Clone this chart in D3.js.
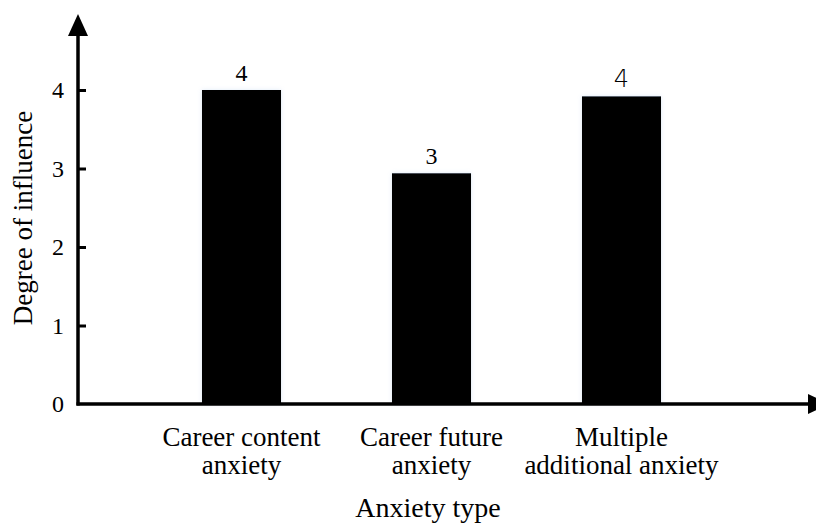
<!DOCTYPE html>
<html>
<head>
<meta charset="utf-8">
<script src="https://cdn.jsdelivr.net/npm/d3@7"></script>
<style>
  body { margin: 0; background: #fff; }
</style>
</head>
<body>
<div id="chart"></div>
<script>
// data
const categories = [["Career content", "anxiety"], ["Career future", "anxiety"], ["Multiple", "additional anxiety"]];
const values = [4.0, 2.94, 3.92];
const valueLabels = ["4", "3", "4"];
const yTicks = [0, 1, 2, 3, 4];

const width = 816, height = 524;
const serif = "'Liberation Serif', 'Times New Roman', Tinos, 'DejaVu Serif', serif";

const svg = d3.select("#chart").append("svg")
    .attr("width", width)
    .attr("height", height)
    .attr("font-family", serif);

// soft bluish glow around the bars
const defs = svg.append("defs");
const glow = defs.append("filter").attr("id", "glow")
    .attr("x", "-20%").attr("y", "-20%").attr("width", "140%").attr("height", "140%");
glow.append("feGaussianBlur").attr("in", "SourceAlpha").attr("stdDeviation", 2).attr("result", "blur");
glow.append("feFlood").attr("flood-color", "#9fc0e8").attr("flood-opacity", 0.35);
glow.append("feComposite").attr("in2", "blur").attr("operator", "in").attr("result", "shadow");
const merge = glow.append("feMerge");
merge.append("feMergeNode").attr("in", "shadow");
merge.append("feMergeNode").attr("in", "SourceGraphic");

// scales
const x = d3.scaleBand()
    .domain(d3.range(categories.length))
    .range([146.5, 716.5])
    .paddingInner(0.584)
    .paddingOuter(0.292);

const y = d3.scaleLinear()
    .domain([0, 4])
    .range([404, 90]);

const x0 = 78;

// bars
svg.selectAll(".bar")
    .data(values)
    .enter().append("rect")
    .attr("class", "bar")
    .attr("x", (d, i) => x(i))
    .attr("y", d => y(d))
    .attr("width", x.bandwidth())
    .attr("height", d => y(0) - y(d))
    .attr("fill", "#000")
    .attr("filter", "url(#glow)");

// value labels (the last one is set in a thin sans face in the original)
svg.selectAll(".val")
    .data(values)
    .enter().append("text")
    .attr("class", "val")
    .attr("x", (d, i) => x(i) + x.bandwidth() / 2)
    .attr("y", d => y(d) - 9)
    .attr("text-anchor", "middle")
    .attr("font-size", 24)
    .attr("font-family", (d, i) => i == 2 ? "'DejaVu Sans', sans-serif" : null)
    .attr("font-weight", (d, i) => i == 2 ? 300 : null)
    .attr("fill", "#000")
    .text((d, i) => valueLabels[i]);

// y axis
const yAxis = d3.axisRight(y)
    .tickValues(yTicks)
    .tickSize(8)
    .tickFormat("");

const yg = svg.append("g")
    .attr("transform", "translate(" + x0 + ",0)")
    .call(yAxis);
yg.select(".domain").remove();
yg.selectAll(".tick line").attr("stroke", "#000").attr("stroke-width", 3);
yg.selectAll(".tick").filter(d => d === 0).select("line").remove();

svg.selectAll(".ytl")
    .data(yTicks)
    .enter().append("text")
    .attr("class", "ytl")
    .attr("x", 58)
    .attr("y", d => y(d) + 8)
    .attr("text-anchor", "middle")
    .attr("font-size", 24)
    .text(d => d);

// axis lines with arrows
svg.append("line")
    .attr("x1", x0).attr("x2", x0)
    .attr("y1", y(0) + 1.5).attr("y2", 30)
    .attr("stroke", "#000").attr("stroke-width", 3.5);
svg.append("path")
    .attr("d", d3.line()([[x0, 14], [x0 - 10, 36], [x0 + 10, 36]]) + "Z")
    .attr("fill", "#000");

svg.append("line")
    .attr("x1", x0 - 1.5).attr("x2", 812)
    .attr("y1", y(0)).attr("y2", y(0))
    .attr("stroke", "#000").attr("stroke-width", 3.5);
svg.append("path")
    .attr("d", d3.line()([[830, y(0)], [808, y(0) - 10], [808, y(0) + 10]]) + "Z")
    .attr("fill", "#000");

// category labels
const cat = svg.selectAll(".cat")
    .data(categories)
    .enter().append("text")
    .attr("class", "cat")
    .attr("text-anchor", "middle")
    .attr("font-size", 27);
cat.selectAll("tspan")
    .data((d, i) => d.map(s => ({s, i})))
    .enter().append("tspan")
    .attr("x", d => x(d.i) + x.bandwidth() / 2)
    .attr("y", (d, j) => 446 + j * 28)
    .text(d => d.s);

// axis titles
svg.append("text")
    .attr("x", 428)
    .attr("y", 517)
    .attr("text-anchor", "middle")
    .attr("font-size", 28)
    .text("Anxiety type");

svg.append("text")
    .attr("transform", "translate(32,218) rotate(-90)")
    .attr("text-anchor", "middle")
    .attr("font-size", 27)
    .text("Degree of influence");
</script>
</body>
</html>
